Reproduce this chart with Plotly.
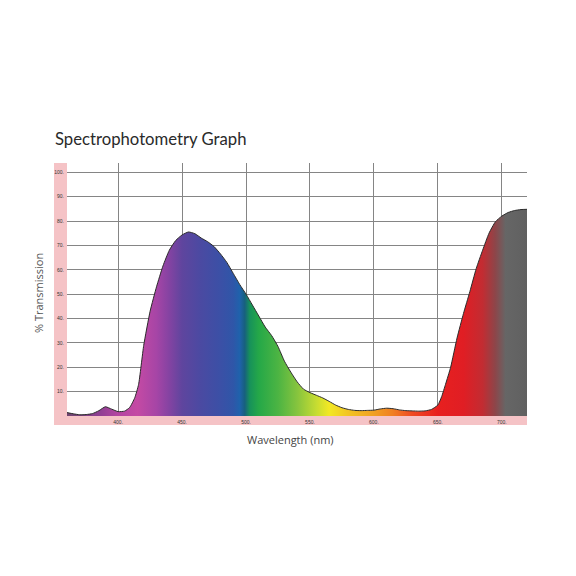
import plotly.graph_objects as go

wavelength = [360, 365, 370, 375, 380, 385, 390, 395, 400, 405, 409, 413, 416, 420,
              425, 430, 435, 440, 445, 450, 455, 460, 465, 470, 475, 480, 485, 490,
              495, 500, 505, 510, 515, 520, 525, 530, 535, 540, 545, 550, 555, 560,
              565, 570, 575, 580, 585, 590, 595, 600, 605, 610, 615, 620, 625, 630,
              635, 640, 645, 650, 653, 656, 660, 665, 670, 675, 680, 685, 690, 695,
              700, 705, 710, 715, 720]
transmission = [1.4, 0.9, 0.5, 0.6, 1.0, 2.2, 3.8, 2.8, 1.8, 2.0, 3.5, 7.5, 13, 29,
                43, 53, 61.5, 68, 72, 74.3, 75.5, 74.8, 73, 71.5, 69.5, 66.5, 63, 58.5,
                54, 50, 45.5, 41, 36.5, 33, 28.5, 22.5, 18, 14, 11, 9.6, 8.5, 7.4,
                6.0, 4.5, 3.4, 2.7, 2.3, 2.2, 2.3, 2.4, 2.9, 3.2, 3.0, 2.5, 2.2, 2.1,
                2.0, 2.1, 2.7, 4.5, 8, 13, 20, 32, 42, 51, 60.5, 68, 75, 79.7,
                82, 83.5, 84.3, 84.7, 84.8]

x_ticks = [400, 450, 500, 550, 600, 650, 700]
x_ticktext = ["400.", "450.", "500.", "550.", "600.", "650.", "700."]
y_ticks = [10, 20, 30, 40, 50, 60, 70, 80, 90, 100]
y_ticktext = ["10.", "20.", "30.", "40.", "50.", "60.", "70.", "80.", "90.", "100."]

# spectral gradient stops (wavelength, colour)
spec_nm = [360, 385, 400, 415, 430, 440, 450, 465, 480, 490, 495, 499, 503, 510,
           525, 540, 555, 565, 580, 600, 615, 630, 650, 670, 685, 695, 703, 720]
spec_col = ["#6e456e", "#8e3f92", "#b445a2", "#c44aa4", "#a645a6", "#8443a2",
            "#5f459e", "#4a4aa2", "#3b50a6", "#2f56a8", "#1f62ac", "#17607e",
            "#17925a", "#25a848", "#4cb443", "#86c43e", "#c6dc32", "#f2e824",
            "#f2c424", "#f0a022", "#f07e22", "#ef4a22", "#e8201f", "#e01e24",
            "#c22c32", "#8c464a", "#666666", "#606060"]

lo, hi = 360, 720
colorscale = [[(w - lo) / (hi - lo), c] for w, c in zip(spec_nm, spec_col)]

OFF = 8  # page body margin
W, H = 576, 576
L, R, T, B = 67 - OFF, 527 - OFF, 163 - OFF, 416 - OFF  # plot area in figure pixels

fig = go.Figure()
fig.add_trace(go.Scatter(
    x=wavelength, y=transmission, mode="lines",
    line=dict(color="#2b2b2b", width=1, shape="spline", smoothing=0.5),
    fill="tozeroy",
    fillgradient=dict(type="horizontal", colorscale=colorscale, start=lo, stop=hi),
    hoverinfo="skip", showlegend=False,
))

pw, ph = R - L, B - T
def px2paper_x(px):
    return (px - OFF - L) / pw
def px2paper_y(py):
    return (B - (py - OFF)) / ph

pink = "#f5c3c6"
shapes = [
    dict(type="rect", xref="paper", yref="paper", layer="below",
         x0=px2paper_x(54), x1=0, y0=px2paper_y(425), y1=1,
         fillcolor=pink, line=dict(width=0)),
    dict(type="rect", xref="paper", yref="paper", layer="below",
         x0=px2paper_x(54), x1=1, y0=px2paper_y(425), y1=0,
         fillcolor=pink, line=dict(width=0)),
]

fig.update_layout(
    width=W, height=H,
    margin=dict(l=L, r=W - R, t=T, b=H - B, pad=0),
    paper_bgcolor="white", plot_bgcolor="white",
    title=dict(text="Spectrophotometry Graph", xref="container", yref="container",
               x=(55 - OFF) / W, y=1 - (139 - OFF) / H, xanchor="left", yanchor="middle",
               font=dict(family="Lato", size=16.7, color="#2a2a2a")),
    xaxis=dict(range=[lo, 719.7], tickvals=x_ticks, ticktext=x_ticktext,
               showgrid=True, gridcolor="#858585", gridwidth=1, zeroline=False,
               showline=False, ticks="", ticklabelstandoff=2,
               tickfont=dict(family="Liberation Sans", size=5, color="#333333")),
    yaxis=dict(range=[0, 103.8], tickvals=y_ticks, ticktext=y_ticktext,
               showgrid=True, gridcolor="#858585", gridwidth=1, zeroline=False,
               showline=False, ticks="", ticklabelstandoff=2,
               tickfont=dict(family="Liberation Sans", size=5, color="#333333")),
    shapes=shapes,
    annotations=[
        dict(text="% Transmission", xref="paper", yref="paper",
             x=px2paper_x(38), y=px2paper_y(293), showarrow=False, textangle=-90,
             xanchor="center", yanchor="middle",
             font=dict(family="Open Sans", size=11, color="#555555")),
        dict(text="Wavelength (nm)", xref="paper", yref="paper",
             x=px2paper_x(290), y=px2paper_y(439), showarrow=False,
             xanchor="center", yanchor="middle",
             font=dict(family="Open Sans", size=11, color="#444444")),
    ],
)

fig.write_html("out.html")
